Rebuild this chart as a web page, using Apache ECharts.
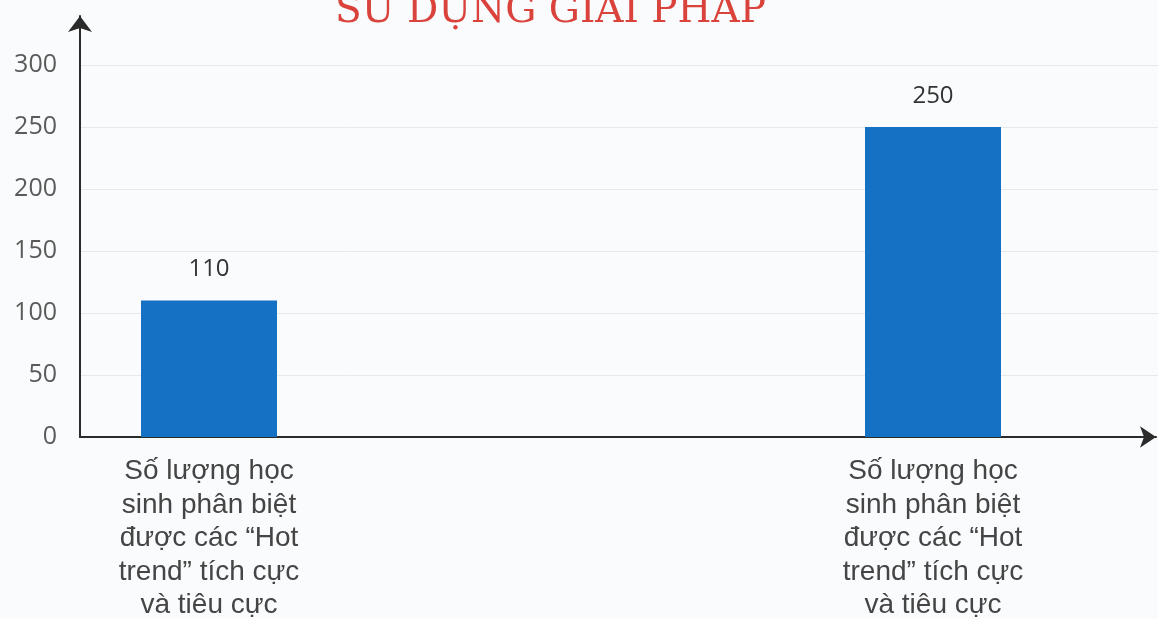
<!DOCTYPE html>
<html>
<head>
<meta charset="utf-8">
<script src="https://cdn.jsdelivr.net/npm/echarts@6/dist/echarts.min.js"></script>
<style>
html,body{margin:0;padding:0;background:#fafbfc;}
#chart{width:1158px;height:619px;}
</style>
</head>
<body>
<div id="chart"></div>
<script>
const titleText = 'SỬ DỤNG GIẢI PHÁP';
const categories = [
  'Số lượng học\nsinh phân biệt\nđược các “Hot\ntrend” tích cực\nvà tiêu cực',
  'Số lượng học\nsinh phân biệt\nđược các “Hot\ntrend” tích cực\nvà tiêu cực'
];
const values = [110, 250];
const yMin = 0, yMax = 300, yStep = 50;

const chart = echarts.init(document.getElementById('chart'), null, {renderer: 'canvas'});
const axisColor = '#2b2b2b';
chart.setOption({
  backgroundColor: '#fafbfc',
  animation: false,
  title: {
    text: titleText,
    left: 330,
    top: -13,
    textStyle: {fontFamily: 'DejaVu Serif', fontSize: 39, fontWeight: 'normal', color: '#d9433b'}
  },
  grid: [
    {left: 80, right: 2, top: 16, bottom: 182, outerBoundsMode: 'none', containLabel: false},
    {left: 80, right: 0, top: 65, bottom: 182, outerBoundsMode: 'none', containLabel: false},
    {left: -153, right: -137, top: 65, bottom: 182, outerBoundsMode: 'none', containLabel: false}
  ],
  xAxis: [
    {gridIndex: 0, type: 'value', min: 0, max: 1, axisLine: {show: true, onZero: false, lineStyle: {color: axisColor, width: 2}, symbol: ['none', 'arrow'], symbolSize: [16, 16]}, axisTick: {show: false}, axisLabel: {show: false}, splitLine: {show: false}},
    {gridIndex: 1, type: 'category', data: categories, show: false},
    {gridIndex: 2, type: 'category', data: categories,
      axisLine: {show: false}, axisTick: {show: false},
      axisLabel: {interval: 0, margin: 18, fontFamily: 'Liberation Sans', fontSize: 28, lineHeight: 33.5, color: '#454545', align: 'center'}}
  ],
  yAxis: [
    {gridIndex: 0, type: 'value', min: 0, max: 1, axisLine: {show: true, onZero: false, lineStyle: {color: axisColor, width: 2}, symbol: ['none', 'arrow'], symbolSize: [18, 16]}, axisTick: {show: false}, axisLabel: {show: false}, splitLine: {show: false}},
    {gridIndex: 1, type: 'value', min: yMin, max: yMax, interval: yStep,
      axisLine: {show: false}, axisTick: {show: false},
      axisLabel: {margin: 23, fontFamily: 'Open Sans', fontSize: 25, color: '#5a5a5a'},
      splitLine: {show: true, lineStyle: {color: '#e6e8ec', width: 1}}},
    {gridIndex: 2, type: 'value', min: yMin, max: yMax, interval: yStep, show: false, splitLine: {show: false}}
  ],
  series: [{
    type: 'bar',
    xAxisIndex: 2,
    yAxisIndex: 2,
    data: values,
    barWidth: 136,
    itemStyle: {color: '#1571c4'},
    label: {show: true, position: 'top', distance: 19, fontFamily: 'Open Sans', fontSize: 24, color: '#333'}
  }]
});
</script>
</body>
</html>
